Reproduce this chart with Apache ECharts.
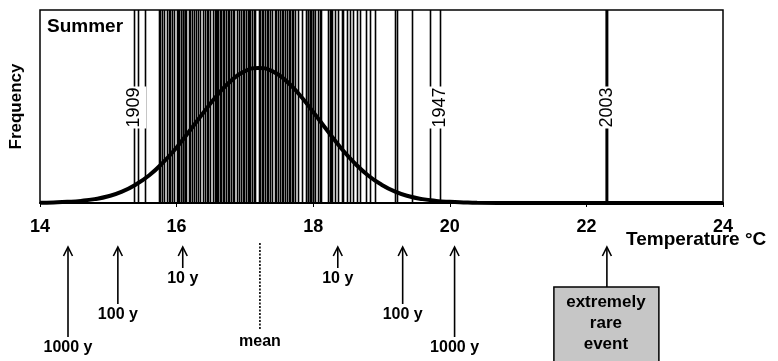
<!DOCTYPE html>
<html><head><meta charset="utf-8">
<script src="https://cdn.jsdelivr.net/npm/echarts@6/dist/echarts.min.js"></script>
<style>html,body{margin:0;padding:0;background:#fff}#c{width:778px;height:361px}</style>
</head><body><div id="c"></div>
<script>
// Summer mean temperatures (one vertical line per year), °C
const summerTemps = [15.38, 15.43, 15.54, 15.74, 15.76, 15.78, 15.82, 15.86, 15.89, 15.91, 15.93, 15.96, 16.00, 16.02, 16.04, 16.06, 16.09, 16.10, 16.12, 16.13, 16.14, 16.18, 16.20, 16.22, 16.25, 16.29, 16.31, 16.34, 16.38, 16.42, 16.44, 16.46, 16.49, 16.53, 16.56, 16.58, 16.59, 16.61, 16.63, 16.65, 16.68, 16.70, 16.73, 16.75, 16.77, 16.80, 16.82, 16.84, 16.88, 16.91, 16.95, 16.97, 16.99, 17.02, 17.04, 17.06, 17.08, 17.11, 17.13, 17.15, 17.20, 17.22, 17.25, 17.27, 17.29, 17.32, 17.34, 17.37, 17.39, 17.44, 17.46, 17.49, 17.51, 17.54, 17.56, 17.59, 17.61, 17.64, 17.66, 17.69, 17.71, 17.73, 17.78, 17.83, 17.90, 17.92, 17.93, 17.95, 17.97, 17.99, 18.00, 18.03, 18.07, 18.10, 18.12, 18.22, 18.24, 18.26, 18.27, 18.32, 18.37, 18.42, 18.44, 18.49, 18.54, 18.59, 18.64, 18.69, 18.78, 18.83, 18.90, 19.20, 19.23, 19.44, 19.71, 19.86, 22.30];
const labelYears = ['1909', '1947', '2003'];
const labelTemps = [15.38, 19.86, 22.30];
// Fitted frequency curve
const curveX = [14.0, 14.2, 14.4, 14.6, 14.8, 15.0, 15.2, 15.4, 15.6, 15.8, 16.0, 16.2, 16.4, 16.6, 16.8, 17.0, 17.2, 17.4, 17.6, 17.8, 18.0, 18.2, 18.4, 18.6, 18.8, 19.0, 19.2, 19.4, 19.6, 19.8, 20.0, 20.2, 20.4, 21.0, 22.0, 23.0, 24.0];
const curveY = [0.001, 0.003, 0.006, 0.011, 0.020, 0.035, 0.059, 0.095, 0.144, 0.209, 0.288, 0.378, 0.471, 0.561, 0.634, 0.683, 0.700, 0.683, 0.634, 0.561, 0.471, 0.378, 0.288, 0.209, 0.144, 0.095, 0.059, 0.035, 0.020, 0.011, 0.006, 0.003, 0.001, 0, 0, 0, 0];
// Return-period markers
const returnLabels = ['1000 y', '100 y', '10 y', '10 y', '100 y', '1000 y'];
const returnTemps = [14.41, 15.14, 16.09, 18.36, 19.31, 20.07];
const meanTemp = 17.22;
const rareEventTemp = 22.30;
const rareEventText = ['extremely', 'rare', 'event'];

const FONT = '"Liberation Sans", Arial, sans-serif';
const arrowDrop = { '10 y': 21, '100 y': 57, '1000 y': 90 };

const chart = echarts.init(document.getElementById('c'), null, { renderer: 'canvas' });

function arrowHead(x, y) {
  return { type: 'polyline', shape: { points: [[x - 4.5, y + 9], [x, y], [x + 4.5, y + 9]] },
           style: { stroke: '#000', lineWidth: 1.6, fill: null } };
}

chart.setOption({
  animation: false,
  backgroundColor: '#fff',
  grid: { left: 40, right: 55, top: 10, bottom: 158, outerBoundsMode: 'none', containLabel: false,
          show: true, borderColor: '#000', borderWidth: 1.5, backgroundColor: 'transparent' },
  xAxis: {
    type: 'value', min: 14, max: 24, interval: 2,
    axisLine: { show: true, lineStyle: { color: '#000', width: 2 } },
    axisTick: { show: true, length: 4, lineStyle: { color: '#000' } },
    axisLabel: { color: '#000', fontFamily: FONT, fontWeight: 'bold', fontSize: 18, margin: 15 },
    splitLine: { show: false }
  },
  yAxis: {
    type: 'value', min: 0, max: 1,
    name: 'Frequency', nameLocation: 'middle', nameGap: 15,
    nameTextStyle: { color: '#000', fontFamily: FONT, fontWeight: 'bold', fontSize: 17 },
    axisLine: { show: false }, axisTick: { show: false }, axisLabel: { show: false }, splitLine: { show: false }
  },
  graphic: [
    { type: 'text', left: 47, top: 17, style: { text: 'Summer', font: 'bold 19px ' + FONT, fill: '#000' } },
    { type: 'text', left: 626, top: 230, style: { text: 'Temperature °C', font: 'bold 19px ' + FONT, fill: '#000' } }
  ],
  series: [
    {
      type: 'custom', name: 'years', z: 2,
      data: summerTemps.map(t => [t]),
      encode: { x: 0 },
      renderItem(params, api) {
        const t = api.value(0);
        const p0 = api.coord([t, 0]), p1 = api.coord([t, 1]);
        const thick = t === rareEventTemp;
        const x = thick ? p0[0] : Math.round(p0[0]) + 0.5;
        return { type: 'line', shape: { x1: x, y1: p0[1], x2: x, y2: p1[1] },
                 style: { stroke: '#000', lineWidth: thick ? 3 : 1.6 } };
      }
    },
    {
      type: 'custom', name: 'yearLabels', z: 3,
      data: labelTemps.map(t => [t]),
      encode: { x: 0 },
      renderItem(params, api) {
        const t = api.value(0);
        const p = api.coord([t, 0.5]);
        return { type: 'text', x: p[0], y: p[1] + 1, rotation: Math.PI / 2,
                 style: { text: labelYears[params.dataIndex], font: '18px ' + FONT, fill: '#000',
                          align: 'center', verticalAlign: 'middle', backgroundColor: '#fff', padding: [3, 1] } };
      }
    },
    {
      type: 'line', name: 'fit', z: 4, smooth: true, symbol: 'none',
      data: curveX.map((x, i) => [x, curveY[i]]),
      lineStyle: { color: '#000', width: 4 }
    },
    {
      type: 'custom', name: 'returnPeriods', z: 5, clip: false,
      data: returnTemps.map(t => [t]),
      encode: { x: 0 },
      renderItem(params, api) {
        const t = api.value(0);
        const base = api.coord([t, 0]);
        const x = base[0], top = base[1] + 44;
        const lab = returnLabels[params.dataIndex];
        const bottom = top + arrowDrop[lab];
        return { type: 'group', children: [
          { type: 'line', shape: { x1: x, y1: top + 1, x2: x, y2: bottom }, style: { stroke: '#000', lineWidth: 1.6 } },
          arrowHead(x, top),
          { type: 'text', x: x, y: bottom + 11, style: { text: lab, font: 'bold 16px ' + FONT, fill: '#000', align: 'center', verticalAlign: 'middle' } }
        ] };
      }
    },
    {
      type: 'custom', name: 'mean', z: 5, clip: false,
      data: [[meanTemp]],
      encode: { x: 0 },
      renderItem(params, api) {
        const base = api.coord([api.value(0), 0]);
        const x = base[0];
        return { type: 'group', children: [
          { type: 'line', shape: { x1: x, y1: base[1] + 40, x2: x, y2: base[1] + 127 }, style: { stroke: '#000', lineWidth: 1.6, lineDash: [2, 1.5] } },
          { type: 'text', x: x, y: base[1] + 139, style: { text: 'mean', font: 'bold 16px ' + FONT, fill: '#000', align: 'center', verticalAlign: 'middle' } }
        ] };
      }
    },
    {
      type: 'custom', name: 'rareEvent', z: 5, clip: false,
      data: [[rareEventTemp]],
      encode: { x: 0 },
      renderItem(params, api) {
        const base = api.coord([api.value(0), 0]);
        const x = base[0], top = base[1] + 44, boxTop = base[1] + 84;
        const kids = [
          { type: 'line', shape: { x1: x, y1: top + 1, x2: x, y2: boxTop }, style: { stroke: '#000', lineWidth: 1.6 } },
          arrowHead(x, top),
          { type: 'rect', shape: { x: x - 53, y: boxTop, width: 105, height: 90 }, style: { fill: '#c6c6c6', stroke: '#000', lineWidth: 1.5 } }
        ];
        rareEventText.forEach((s, i) => kids.push({ type: 'text', x: x - 1, y: boxTop + 15 + i * 21,
          style: { text: s, font: 'bold 17px ' + FONT, fill: '#000', align: 'center', verticalAlign: 'middle' } }));
        return { type: 'group', children: kids };
      }
    }
  ]
});
</script>
</body></html>
